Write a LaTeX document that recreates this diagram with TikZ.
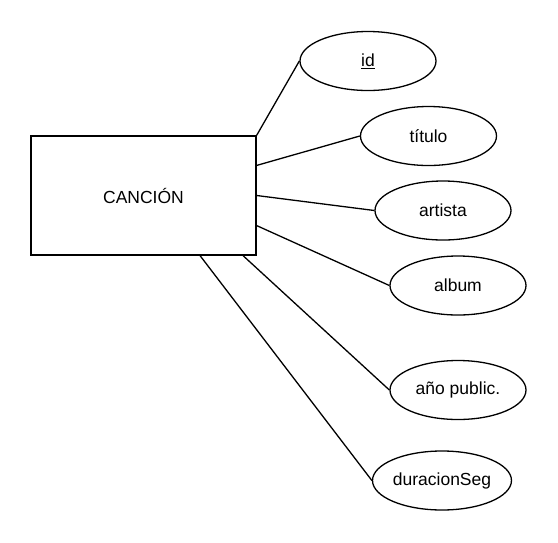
\documentclass[tikz,border=0pt]{standalone}
\usepackage{fontspec}
\setmainfont{Liberation Sans}
\usetikzlibrary{shapes.geometric, calc}

\begin{document}
\begin{tikzpicture}[
    x=1pt, y=-1pt,
    line width=1.3pt,
    font=\fontsize{17.5}{21}\selectfont,
    entity/.style={draw, rectangle, minimum width=225pt, minimum height=119pt, inner sep=0pt},
    attr/.style={draw, ellipse, minimum width=136pt, minimum height=59pt, inner sep=0pt}
]
\useasboundingbox (0,0) rectangle (558,542);

% Nodes
\node (cancion) [entity] at (143.5,195.5) {CANCIÓN};
\node (id) [attr] at (368,61) {\underline{id}};
\node (titulo) [attr] at (428.5,136) {título};
\node (artista) [attr] at (443,210.5) {artista};
\node (album) [attr] at (458,285.5) {album};
\node (anio) [attr] at (458,390) {año public.};
\node (duracion) [attr] at (442,480.5) {duracionSeg};

% Lines
\draw (cancion.north east) -- (id.west);
\draw ($(cancion.north east)!0.25!(cancion.south east)$) -- (titulo.west);
\draw ($(cancion.north east)!0.5!(cancion.south east)$) -- (artista.west);
\draw ($(cancion.north east)!0.75!(cancion.south east)$) -- (album.west);
\draw ($(cancion.south west)!0.94!(cancion.south east)$) -- (anio.west);
\draw ($(cancion.south west)!0.75!(cancion.south east)$) -- (duracion.west);

\end{tikzpicture}
\end{document}
